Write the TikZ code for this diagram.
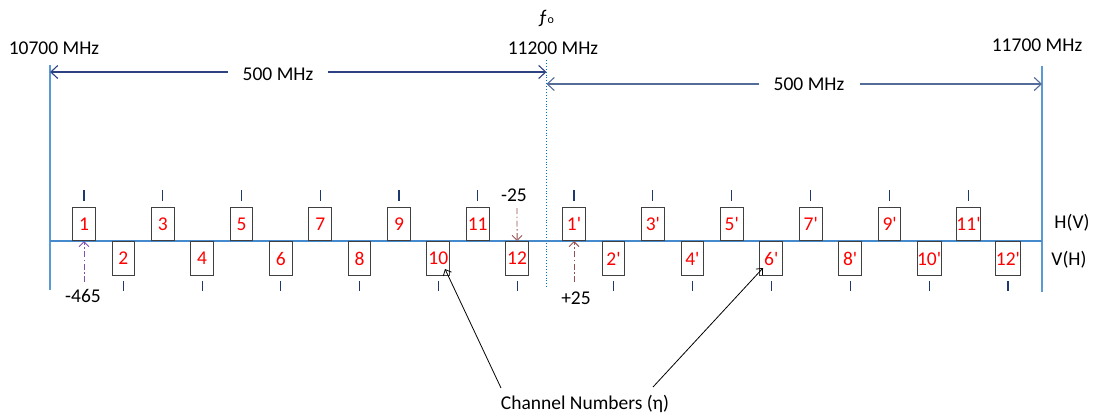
\documentclass[tikz,border=0pt]{standalone}
\usepackage{fontspec}
\setmainfont{Carlito}[Ligatures=TeXOff]
\usetikzlibrary{arrows.meta}
\definecolor{baseblue}{RGB}{68,138,204}
\definecolor{vblue}{RGB}{91,155,213}
\definecolor{midblue}{RGB}{0,112,192}
\definecolor{arrA}{RGB}{45,66,128}
\definecolor{arrB}{RGB}{84,108,152}
\definecolor{tickblue}{RGB}{31,56,112}
\definecolor{boxgray}{RGB}{64,64,64}
\definecolor{purp}{RGB}{128,80,176}
\definecolor{brn}{RGB}{150,82,82}
\tikzset{
  txt/.style={font=\fontsize{19.5}{23}\selectfont, inner sep=1pt},
  chbox/.style={draw=boxgray, line width=1pt, minimum width=22.7pt, inner sep=0pt, text=red, font=\fontsize{19.5}{23}\selectfont},
  upbox/.style={chbox, minimum height=33pt, anchor=south},
  lowbox/.style={chbox, minimum height=34pt, anchor=north},
  tk/.style={draw=tickblue, line width=1.1pt},
  bigarr/.style={line width=1.1pt, -{Straight Barb[length=7pt,width=13pt]}},
  smallarr/.style={line width=0.9pt, dash pattern=on 6pt off 2.5pt on 1.5pt off 2.5pt, -{Straight Barb[length=5pt,width=10pt]}},
  callout/.style={line width=0.8pt, draw=black, -{Straight Barb[length=5pt,width=9pt]}}
}
\begin{document}
\begin{tikzpicture}[x=1pt,y=-1pt]
\useasboundingbox (0,0) rectangle (1094,418);
% frequency labels
\node[txt] (fo) at (546,18) {ƒ{\fontsize{12}{12}\selectfont o}};
\node[txt] (f1) at (54,48) {10700 MHz};
\node[txt] (f2) at (553,48) {11200 MHz};
\node[txt] (f3) at (1037,45) {11700 MHz};
% vertical lines
\draw[vblue, line width=1.3pt] (50,65) -- (50,290);
\draw[vblue, line width=1.3pt] (1042,66) -- (1042,292);
\draw[midblue, line width=0.9pt, dotted] (546.5,60) -- (546.5,287);
% baseline
\draw[baseblue, line width=1.4pt] (50,241) -- (1042,241);
% 500 MHz arrows
\coordinate (a1) at (50,72);
\coordinate (a2) at (546.5,72);
\coordinate (b1) at (546.5,84);
\coordinate (b2) at (1042,84);
\node[txt, inner xsep=15pt] (w1) at (278,74) {500 MHz};
\node[txt, inner xsep=15pt] (w2) at (809,84) {500 MHz};
\draw[bigarr, arrA] (w1.west |- a1) -- (a1);
\draw[bigarr, arrA] (w1.east |- a2) -- (a2);
\draw[bigarr, arrB] (w2.west |- b1) -- (b1);
\draw[bigarr, arrB] (w2.east |- b2) -- (b2);
% channel boxes, first half
\foreach \k in {1,...,12} {
  \pgfmathsetmacro{\xx}{84+(\k-1)*39.37}
  \ifodd\k
    \node[upbox] (c\k) at (\xx,241) {\k};
    \draw[tk] (\xx,190) -- (\xx,201);
  \else
    \node[lowbox] (c\k) at (\xx,241) {\k};
    \draw[tk] (\xx,281) -- (\xx,291);
  \fi
}
% channel boxes, second half
\foreach \k in {1,...,12} {
  \pgfmathsetmacro{\xx}{574+(\k-1)*39.45}
  \ifodd\k
    \node[upbox] (p\k) at (\xx,241) {\k'};
    \draw[tk] (\xx,190) -- (\xx,201);
  \else
    \node[lowbox] (p\k) at (\xx,241) {\k'};
    \draw[tk] (\xx,281) -- (\xx,291);
  \fi
}
% polarisation labels
\node[txt] (hv) at (1072,223) {H(V)};
\node[txt] (vh) at (1069,260) {V(H)};
% offsets
\node[txt] (m465) at (83,296) {-465};
\coordinate (s465) at (84,282);
\draw[smallarr, purp] (s465) -- (c1.south);
\node[txt] (m25) at (514,195) {-25};
\coordinate (s25) at (517,208);
\draw[smallarr, brn] (s25) -- (c12.north);
\node[txt] (p25) at (576,298) {+25};
\coordinate (sp25) at (574,282);
\draw[smallarr, brn] (sp25) -- (p1.south);
% channel numbers callout
\node[txt] (cn) at (585,404) {Channel Numbers (η)};
\coordinate (t10) at (445,269);
\coordinate (t6) at (763,268);
\coordinate (o1) at (501,388);
\coordinate (o2) at (653,387);
\draw[callout] (o1) -- (t10);
\draw[callout] (o2) -- (t6);
\end{tikzpicture}
\end{document}
